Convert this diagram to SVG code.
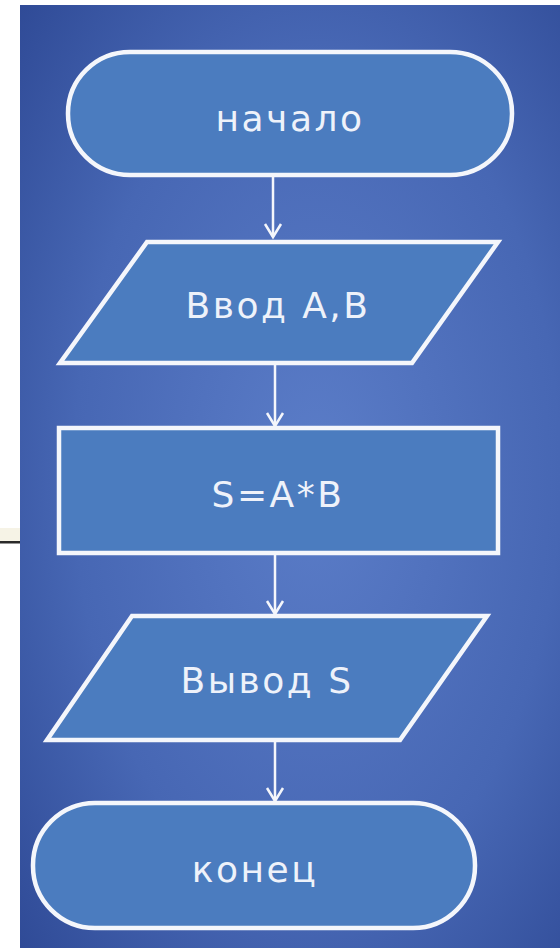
<svg xmlns="http://www.w3.org/2000/svg" width="560" height="948" viewBox="0 0 560 948">
<defs>
<radialGradient id="bg" cx="0.55" cy="0.5" r="0.75">
<stop offset="0" stop-color="#5b7dc8"/>
<stop offset="0.6" stop-color="#4767b4"/>
<stop offset="1" stop-color="#2f4a96"/>
</radialGradient>
<marker id="arr" markerWidth="20" markerHeight="20" refX="14" refY="10" orient="auto" markerUnits="userSpaceOnUse" viewBox="0 0 20 20">
<path d="M1,2 L14,10 L1,18" fill="none" stroke="#f4f6fb" stroke-width="2.5"/>
</marker>
<style>
.node{fill:#4b7cbf;stroke:#f4f6fb;stroke-width:4.5;stroke-linejoin:miter}
.lbl{font-family:"DejaVu Sans",Verdana,sans-serif;font-size:36px;fill:#eef2fa;text-anchor:middle;letter-spacing:2.5px}
.conn{stroke:#f4f6fb;stroke-width:2.5;fill:none}
</style>
</defs>
<rect x="0" y="0" width="560" height="948" fill="#ffffff"/>
<rect x="0" y="528" width="20" height="13" fill="#f6f3e6"/>
<rect x="0" y="541" width="20" height="2.5" fill="#2a2a2a"/>
<rect x="20" y="5" width="540" height="943" fill="url(#bg)"/>
<g id="connectors">
<line class="conn" x1="273" y1="175" x2="273" y2="237" marker-end="url(#arr)"/>
<line class="conn" x1="275" y1="363" x2="275" y2="426" marker-end="url(#arr)"/>
<line class="conn" x1="275" y1="553" x2="275" y2="614" marker-end="url(#arr)"/>
<line class="conn" x1="275" y1="740" x2="275" y2="801" marker-end="url(#arr)"/>
</g>
<g id="start">
<rect class="node" x="68" y="52" width="444" height="123" rx="62" ry="61"/>
<text class="lbl" x="290" y="131">начало</text>
</g>
<g id="input">
<polygon class="node" points="147,242 498,242 412,363 60,363"/>
<text class="lbl" x="278" y="318">Ввод А,В</text>
</g>
<g id="process">
<rect class="node" x="59" y="428" width="439" height="125"/>
<text class="lbl" x="278" y="507">S=A*B</text>
</g>
<g id="output">
<polygon class="node" points="132,616 487,616 400,740 47,740"/>
<text class="lbl" x="267" y="693">Вывод S</text>
</g>
<g id="end">
<rect class="node" x="33" y="803" width="442" height="125" rx="62" ry="62"/>
<text class="lbl" x="255" y="882">конец</text>
</g>
</svg>
